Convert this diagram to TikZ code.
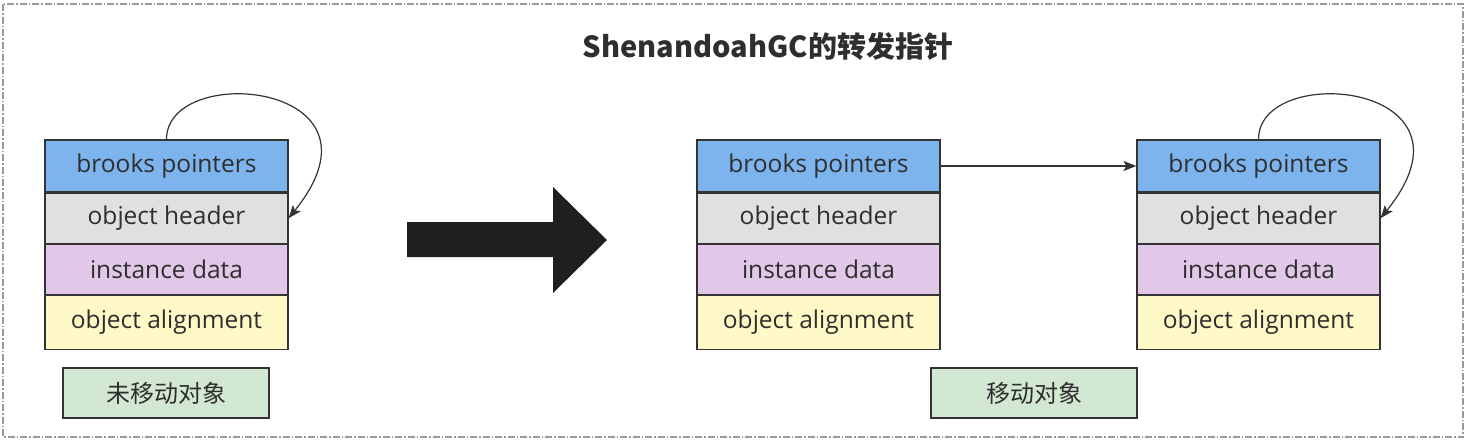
\documentclass[tikz,border=0pt]{standalone}
\usepackage{fontspec}
\setmainfont{Open Sans}
\newfontfamily\cjk{Noto Sans CJK SC}
\usepackage{tikz}
\usetikzlibrary{arrows.meta,positioning}
\definecolor{linecol}{HTML}{333333}
\definecolor{txtcol}{HTML}{2E2E2E}
\definecolor{bpblue}{HTML}{7EB4EE}
\definecolor{hdgray}{HTML}{E0E0E0}
\definecolor{idpurple}{HTML}{E1C8E8}
\definecolor{alyellow}{HTML}{FFF9C8}
\definecolor{lbgreen}{HTML}{D3E8D2}
\definecolor{framecol}{HTML}{9A9A9A}

\begin{document}
\begin{tikzpicture}[x=1pt,y=-1pt,font=\fontsize{24.5}{28}\selectfont,text=txtcol]
\useasboundingbox (0,0) rectangle (1468,440);
\tikzset{field/.style={draw=linecol,line width=1.2pt,minimum width=243pt,minimum height=50pt,inner sep=0pt}}
\tikzset{tag/.style={draw=linecol,line width=1.2pt,fill=lbgreen,minimum width=206pt,minimum height=50pt,inner sep=0pt,font=\cjk\fontsize{24}{28}\selectfont}}
\tikzset{ptr/.style={-{Stealth[length=13pt,width=10pt,inset=3pt]},line width=1.2pt,linecol}}
% outer frame
\draw[framecol,line width=1.3pt,dash pattern=on 7pt off 2pt on 1.5pt off 2pt] (3,4) rectangle (1463,437);
\node[font=\cjk\bfseries\fontsize{29}{34}\selectfont] (title) at (768,46) {ShenandoahGC的转发指针};
% object layouts
\foreach \obj/\x in {old/166.5, mid/818.5, new/1258.5} {
  \node[field,fill=bpblue,minimum height=52pt] (\obj-bp) at (\x,166) {brooks pointers};
  \node[field,fill=hdgray,below=0pt of \obj-bp] (\obj-hd) {object header};
  \node[field,fill=idpurple,below=0pt of \obj-hd] (\obj-id) {instance data};
  \node[field,fill=alyellow,minimum height=54pt,below=0pt of \obj-id] (\obj-al) {object alignment};
}
\node[tag] (oldtag) at (166,393) {未移动对象};
\node[tag] (newtag) at (1034,393) {移动对象};
% forwarding pointers
\draw[ptr] (old-bp.north) .. controls +(0,-78) and +(110,-136) .. (old-hd.east);
\draw[ptr] (new-bp.north) .. controls +(0,-78) and +(110,-136) .. (new-hd.east);
\draw[ptr] (mid-bp.east) -- (new-bp.west);
% big arrow
\fill[black!88] (407,222) -- (553,222) -- (553,187) -- (607,240) -- (553,293) -- (553,257) -- (407,257) -- cycle;
\end{tikzpicture}
\end{document}
